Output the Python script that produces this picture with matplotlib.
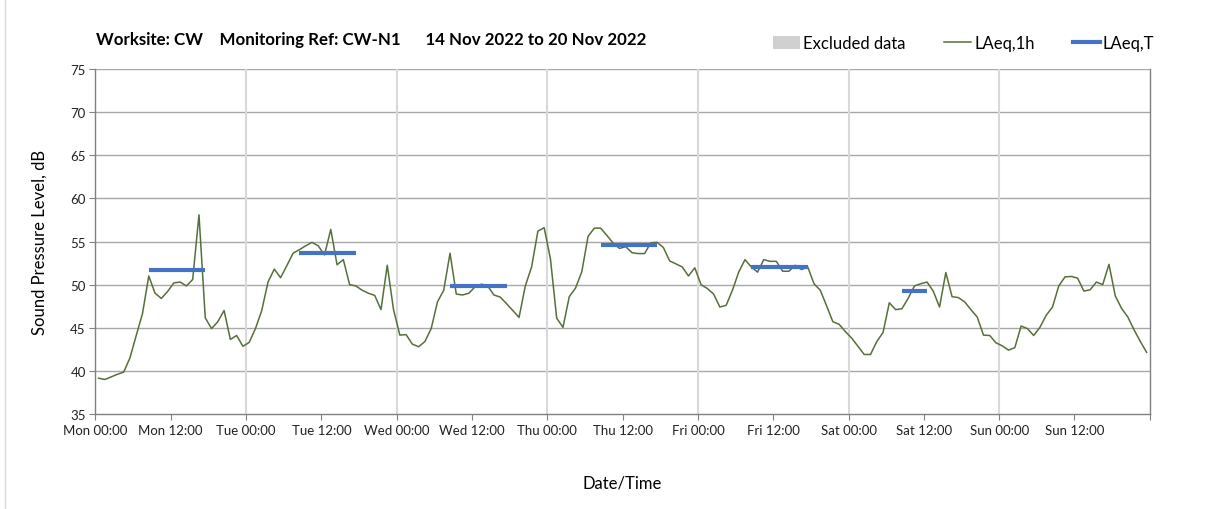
import numpy as np
import matplotlib
matplotlib.use('Agg')
import matplotlib.pyplot as plt
from matplotlib.patches import Patch
from matplotlib.lines import Line2D

plt.rcParams['font.family'] = ['Lato', 'DejaVu Sans']

# hourly LAeq,1h values, Mon 00:00 -> Sun 23:00
laeq_1h = [
    39.15, 39.0, 39.3, 39.6, 39.85, 41.5, 44.1, 46.65, 51.0, 49.0, 48.4, 49.2,
    50.2, 50.3, 49.85, 50.6, 58.1, 46.15, 44.9, 45.7, 47.0, 43.65, 44.1, 42.85,
    43.3, 44.9, 47.0, 50.3, 51.8, 50.8, 52.2, 53.65, 54.05, 54.5, 54.9, 54.5,
    53.45, 56.4, 52.3, 52.9, 50.0, 49.85, 49.35, 49.0, 48.75, 47.1, 52.25, 47.1,
    44.15, 44.2, 43.1, 42.8, 43.4, 44.9, 48.0, 49.35, 53.65, 48.9, 48.8, 49.0,
    49.75, 50.05, 49.85, 48.8, 48.55, 47.8, 47.0, 46.2, 49.85, 52.05, 56.2, 56.6,
    53.0, 46.1, 45.05, 48.6, 49.6, 51.5, 55.6, 56.55, 56.55, 55.7, 54.8, 54.2,
    54.4, 53.7, 53.6, 53.6, 54.85, 54.9, 54.3, 52.75, 52.4, 52.05, 51.0, 51.95,
    50.0, 49.55, 48.9, 47.4, 47.6, 49.35, 51.45, 52.9, 52.05, 51.45, 52.9, 52.7,
    52.7, 51.55, 51.55, 52.25, 51.75, 52.05, 50.1, 49.35, 47.55, 45.7, 45.4, 44.55,
    43.8, 42.85, 41.9, 41.9, 43.4, 44.45, 47.9, 47.1, 47.2, 48.4, 49.85, 50.1,
    50.3, 49.25, 47.4, 51.4, 48.6, 48.5, 48.0, 47.1, 46.25, 44.15, 44.1, 43.25,
    42.9, 42.4, 42.7, 45.2, 44.9, 44.1, 45.05, 46.45, 47.4, 49.85, 50.9, 50.95,
    50.75, 49.25, 49.4, 50.3, 50.0, 52.35, 48.7, 47.25, 46.25, 44.75, 43.4, 42.15,
]

# LAeq,T per day: day index, first hour, last hour, level
laeqT_day = [0, 1, 2, 3, 4, 5]
laeqT_from = [8, 8, 8, 8, 8, 8]
laeqT_to = [17, 17, 17, 17, 17, 12]
laeqT_val = [51.7, 53.65, 49.85, 54.65, 52.05, 49.25]

days = ['Mon', 'Tue', 'Wed', 'Thu', 'Fri', 'Sat', 'Sun']
tick_labels = []
for d in days:
    tick_labels += [d + ' 00:00', d + ' 12:00']
tick_labels.append('')

hours = np.arange(len(laeq_1h)) + 0.5   # hourly values plotted mid-period

fig = plt.figure(figsize=(12.08, 5.10), dpi=100)
ax = fig.add_axes([0.079, 0.1863, 0.8728, 0.6764])

green = '#55703a'
blue = '#4472c4'

ax.plot(hours, laeq_1h, color=green, lw=1.1, zorder=3)
for d, a, b, v in zip(laeqT_day, laeqT_from, laeqT_to, laeqT_val):
    hh = np.arange(d * 24 + a, d * 24 + b + 1) + 0.5
    ax.plot(hh, [v] * len(hh), color=blue, lw=3, solid_capstyle='butt', zorder=4)

ax.set_xlim(0, 168)
ax.set_ylim(35, 75)
ax.set_yticks(np.arange(35, 76, 5))
ax.set_xticks(np.arange(0, 169, 12))
ax.set_xticklabels(tick_labels, fontsize=9.5, color='#222222')
ax.tick_params(axis='y', labelsize=9.5, labelcolor='#222222', length=4, color='#808080', pad=3)
ax.tick_params(axis='x', length=4, color='#808080', pad=3)

for y in range(40, 76, 5):
    ax.axhline(y, color='#a8a8a8', lw=1, zorder=1)
for x in range(24, 168, 24):
    ax.axvline(x, color='#d9d9d9', lw=1.5, zorder=1)

ax.spines['top'].set_visible(False)
for s in ['left', 'bottom', 'right']:
    ax.spines[s].set_color('#808080')
    ax.spines[s].set_linewidth(1)

ax.set_ylabel('Sound Pressure Level, dB', fontsize=12, labelpad=16)
ax.set_xlabel('Date/Time', fontsize=12, labelpad=28)

fig.text(0.0795, 0.922,
         'Worksite: CW    Monitoring Ref: CW-N1      14 Nov 2022 to 20 Nov 2022',
         fontsize=12.2, fontweight='bold', ha='left', va='center')

handles = [Patch(facecolor='#d0d0d0', edgecolor='none'),
           Line2D([], [], color=green, lw=1.1),
           Line2D([], [], color=blue, lw=3)]
fig.legend(handles, ['Excluded data', 'LAeq,1h', 'LAeq,T'], ncol=3,
           loc='center right', bbox_to_anchor=(0.968, 0.913), frameon=False,
           fontsize=12, handlelength=1.6, handleheight=0.8, handletextpad=0.2,
           columnspacing=2.3)

fig.add_artist(Line2D([0.004, 0.004], [0, 1], color='#d9d9d9', lw=1,
                      transform=fig.transFigure))

fig.savefig('out.png', dpi=100)
